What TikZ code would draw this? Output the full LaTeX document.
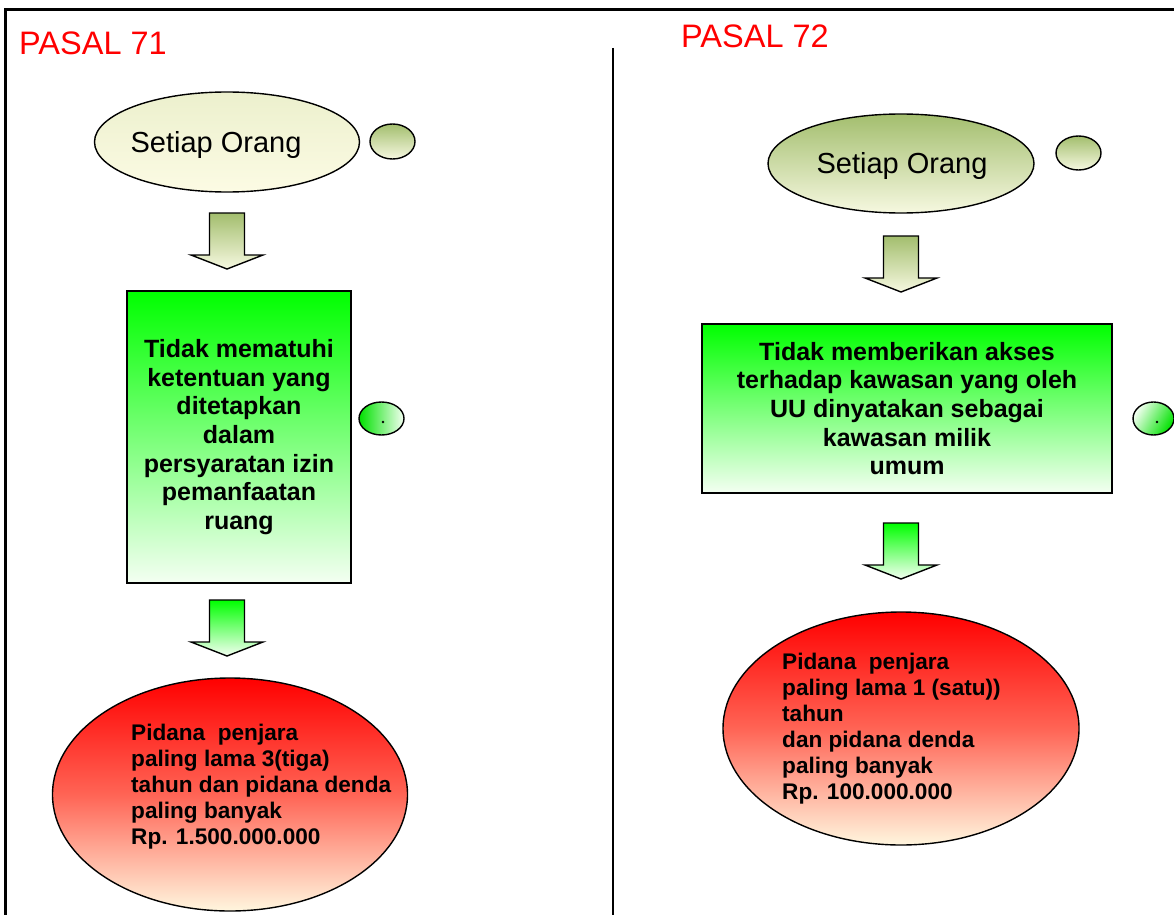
\documentclass[tikz,border=0pt]{standalone}
\usepackage{fontspec}
\setmainfont{Liberation Sans}
\usetikzlibrary{shapes.geometric}
\definecolor{olivetop}{RGB}{163,190,110}
\definecolor{olivebot}{RGB}{246,248,224}
\definecolor{creamtop}{RGB}{236,240,205}
\definecolor{creambot}{RGB}{252,251,228}
\definecolor{greentop}{RGB}{0,255,0}
\definecolor{greenbot}{RGB}{244,255,242}
\definecolor{greenmid}{RGB}{0,225,0}
\definecolor{redtop}{RGB}{255,0,0}
\definecolor{redmid}{RGB}{255,100,85}
\definecolor{redbot}{RGB}{255,246,222}
\definecolor{pasalred}{RGB}{255,0,0}
\tikzset{
  outline/.style={draw=black, line width=1.4pt},
  olivefill/.style={top color=olivetop, bottom color=olivebot},
  creamfill/.style={top color=creamtop, bottom color=creambot},
  greenfill/.style={top color=greentop, bottom color=greenbot},
  redfill/.style={top color=redtop, bottom color=redbot, middle color=redmid},
  ell/.style={ellipse, outline, inner sep=0pt},
  boxnode/.style={rectangle, outline, greenfill, inner sep=0pt, align=center,
    font=\fontsize{25}{28.6}\selectfont\bfseries},
  pasal/.style={anchor=base west, inner sep=0pt, text=pasalred,
    font=\fontsize{32.5}{37}\selectfont},
  setiap/.style={anchor=base, inner sep=0pt, font=\fontsize{29}{33}\selectfont},
  pidana/.style={anchor=north west, inner sep=0pt, align=left,
    font=\fontsize{22.6}{26}\selectfont\bfseries},
  frameline/.style={draw=black, line width=2.2pt},
  pics/barrow/.style={code={
    \shade[outline,#1] (-17.5,0) -- (17.5,0) -- (17.5,42) -- (36,42) -- (0,56)
      -- (-36,42) -- (-17.5,42) -- cycle;}},
}
\begin{document}
\begin{tikzpicture}[x=1pt,y=-1pt]
\useasboundingbox (0,0) rectangle (1174,915);
% frame lines
\coordinate (tl) at (5.5,9.5);
\coordinate (tr) at (1174,9.5);
\coordinate (bl) at (5.5,915);
\coordinate (mt) at (613,48);
\coordinate (mb) at (613,915);
\draw[frameline] (tr) -- (tl) -- (bl);
\draw[draw=black, line width=2pt] (mt) -- (mb);

% titles
\node[pasal] (p71) at (19,55) {PASAL 71};
\node[pasal] (p72) at (681,48) {PASAL 72};

% ---------- PASAL 71 ----------
\node[ell, creamfill, minimum width=265pt, minimum height=100pt] (so1) at (227,142) {};
\node[setiap] (so1t) at (216,152) {Setiap Orang};
\node[ell, olivefill, minimum width=45pt, minimum height=35pt] (c1) at (392.5,141.5) {};
\pic (a1) at (227,213) {barrow=olivefill};
\node[boxnode, minimum width=224pt, minimum height=292pt] (b1) at (239,437)
  {Tidak mematuhi\\ketentuan yang\\ditetapkan\\dalam\\persyaratan izin\\pemanfaatan\\ruang};
\node[ell, left color=greenmid, right color=greenbot, minimum width=45pt, minimum height=33pt] (c2) at (381.5,418.5) {};
\fill (383,422) circle (1.3pt);
\pic (a2) at (227,600) {barrow=greenfill};
\node[ell, redfill, minimum width=355pt, minimum height=233pt] (r1) at (230,794.5) {};
\node[pidana] (r1t) at (131,723.6)
  {Pidana\ \ penjara\\paling lama 3(tiga)\\tahun dan pidana denda\\paling banyak\\Rp. 1.500.000.000};

% ---------- PASAL 72 ----------
\node[ell, olivefill, minimum width=266pt, minimum height=99pt] (so2) at (901,163.5) {};
\node[setiap] (so2t) at (902,173) {Setiap Orang};
\node[ell, olivefill, minimum width=45pt, minimum height=34pt] (c3) at (1078.5,153) {};
\pic (a3) at (901,236) {barrow=olivefill};
\node[boxnode, minimum width=410pt, minimum height=169pt] (b2) at (907,408.5)
  {Tidak memberikan akses\\terhadap kawasan yang oleh\\UU dinyatakan sebagai\\kawasan milik\\umum};
\node[ell, right color=greenmid, left color=greenbot, shading angle=60, minimum width=41pt, minimum height=33pt] (c4) at (1153.5,418.5) {};
\fill (1157,422) circle (1.3pt);
\pic (a4) at (901,523) {barrow=greenfill};
\node[ell, redfill, minimum width=356pt, minimum height=233pt] (r2) at (901,728.5) {};
\node[pidana] (r2t) at (782,652.6)
  {Pidana\ \ penjara\\paling lama 1 (satu))\\tahun\\dan pidana denda\\paling banyak\\Rp. 100.000.000};
\end{tikzpicture}
\end{document}
